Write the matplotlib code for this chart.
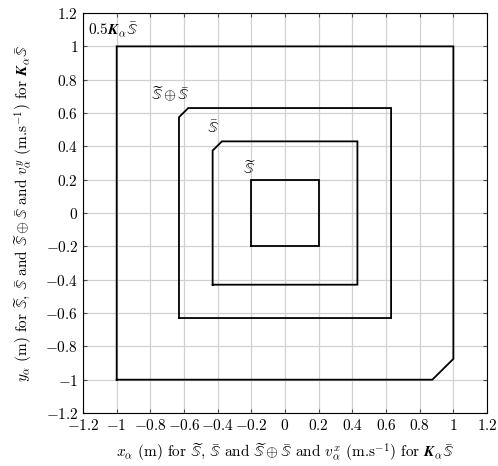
import matplotlib
matplotlib.use("Agg")
import matplotlib.pyplot as plt
import numpy as np

plt.rcParams['mathtext.fontset'] = 'cm'
plt.rcParams['font.family'] = 'serif'
plt.rcParams['font.serif'] = ['cmr10']
plt.rcParams['axes.formatter.use_mathtext'] = True

# polygon vertices (closed)
outer_x = [-1, 0.875, 1, 1, -1, -1]
outer_y = [-1, -1, -0.875, 1, 1, -1]
sum_x = [-0.63, 0.63, 0.63, -0.575, -0.63, -0.63]
sum_y = [-0.63, -0.63, 0.63, 0.63, 0.575, -0.63]
bar_x = [-0.43, 0.43, 0.43, -0.375, -0.43, -0.43]
bar_y = [-0.43, -0.43, 0.43, 0.43, 0.375, -0.43]
tilde_x = [-0.2, 0.2, 0.2, -0.2, -0.2]
tilde_y = [-0.2, -0.2, 0.2, 0.2, -0.2]

ticks = [-1.2, -1, -0.8, -0.6, -0.4, -0.2, 0, 0.2, 0.4, 0.6, 0.8, 1, 1.2]
tick_labels = ['$-1.2$', '$-1$', '$-0.8$', '$-0.6$', '$-0.4$', '$-0.2$', '$0$',
               '$0.2$', '$0.4$', '$0.6$', '$0.8$', '$1$', '$1.2$']

fig = plt.figure(figsize=(4.98, 4.66), dpi=100)
ax = fig.add_axes([0.1667, 0.1137, 0.8113, 0.8583])

for xs, ys in [(outer_x, outer_y), (sum_x, sum_y), (bar_x, bar_y), (tilde_x, tilde_y)]:
    ax.plot(xs, ys, color='black', linewidth=1.3, solid_joinstyle='miter')

ax.text(-1.17, 1.1, r'$0.5\boldsymbol{K}_\alpha\bar{\mathbb{S}}$', fontsize=11, va='center', ha='left')
ax.text(-0.68, 0.71, r'$\widetilde{\mathbb{S}}\oplus\bar{\mathbb{S}}$', fontsize=11, va='center', ha='center')
ax.text(-0.43, 0.51, r'$\bar{\mathbb{S}}$', fontsize=11, va='center', ha='center')
ax.text(-0.21, 0.27, r'$\widetilde{\mathbb{S}}$', fontsize=11, va='center', ha='center')

ax.set_xlim(-1.2, 1.2)
ax.set_ylim(-1.2, 1.2)
ax.set_xticks(ticks)
ax.set_xticklabels(tick_labels)
ax.set_yticks(ticks)
ax.set_yticklabels(tick_labels)
ax.tick_params(direction='in', top=True, right=True, labelsize=11, length=3, color='0.3')
ax.grid(True, color='0.82', linewidth=0.9)
ax.set_axisbelow(True)

ax.set_xlabel(r'$x_\alpha$ (m) for $\widetilde{\mathbb{S}}$, $\bar{\mathbb{S}}$ and '
              r'$\widetilde{\mathbb{S}}\oplus\bar{\mathbb{S}}$ and $v_\alpha^x$ (m.s$^{-1}$) for '
              r'$\boldsymbol{K}_\alpha\bar{\mathbb{S}}$', fontsize=11, labelpad=6)
ax.set_ylabel(r'$y_\alpha$ (m) for $\widetilde{\mathbb{S}}$, $\bar{\mathbb{S}}$ and '
              r'$\widetilde{\mathbb{S}}\oplus\bar{\mathbb{S}}$ and $v_\alpha^y$ (m.s$^{-1}$) for '
              r'$\boldsymbol{K}_\alpha\bar{\mathbb{S}}$', fontsize=11, labelpad=8)

fig.savefig('out.png', dpi=100)
